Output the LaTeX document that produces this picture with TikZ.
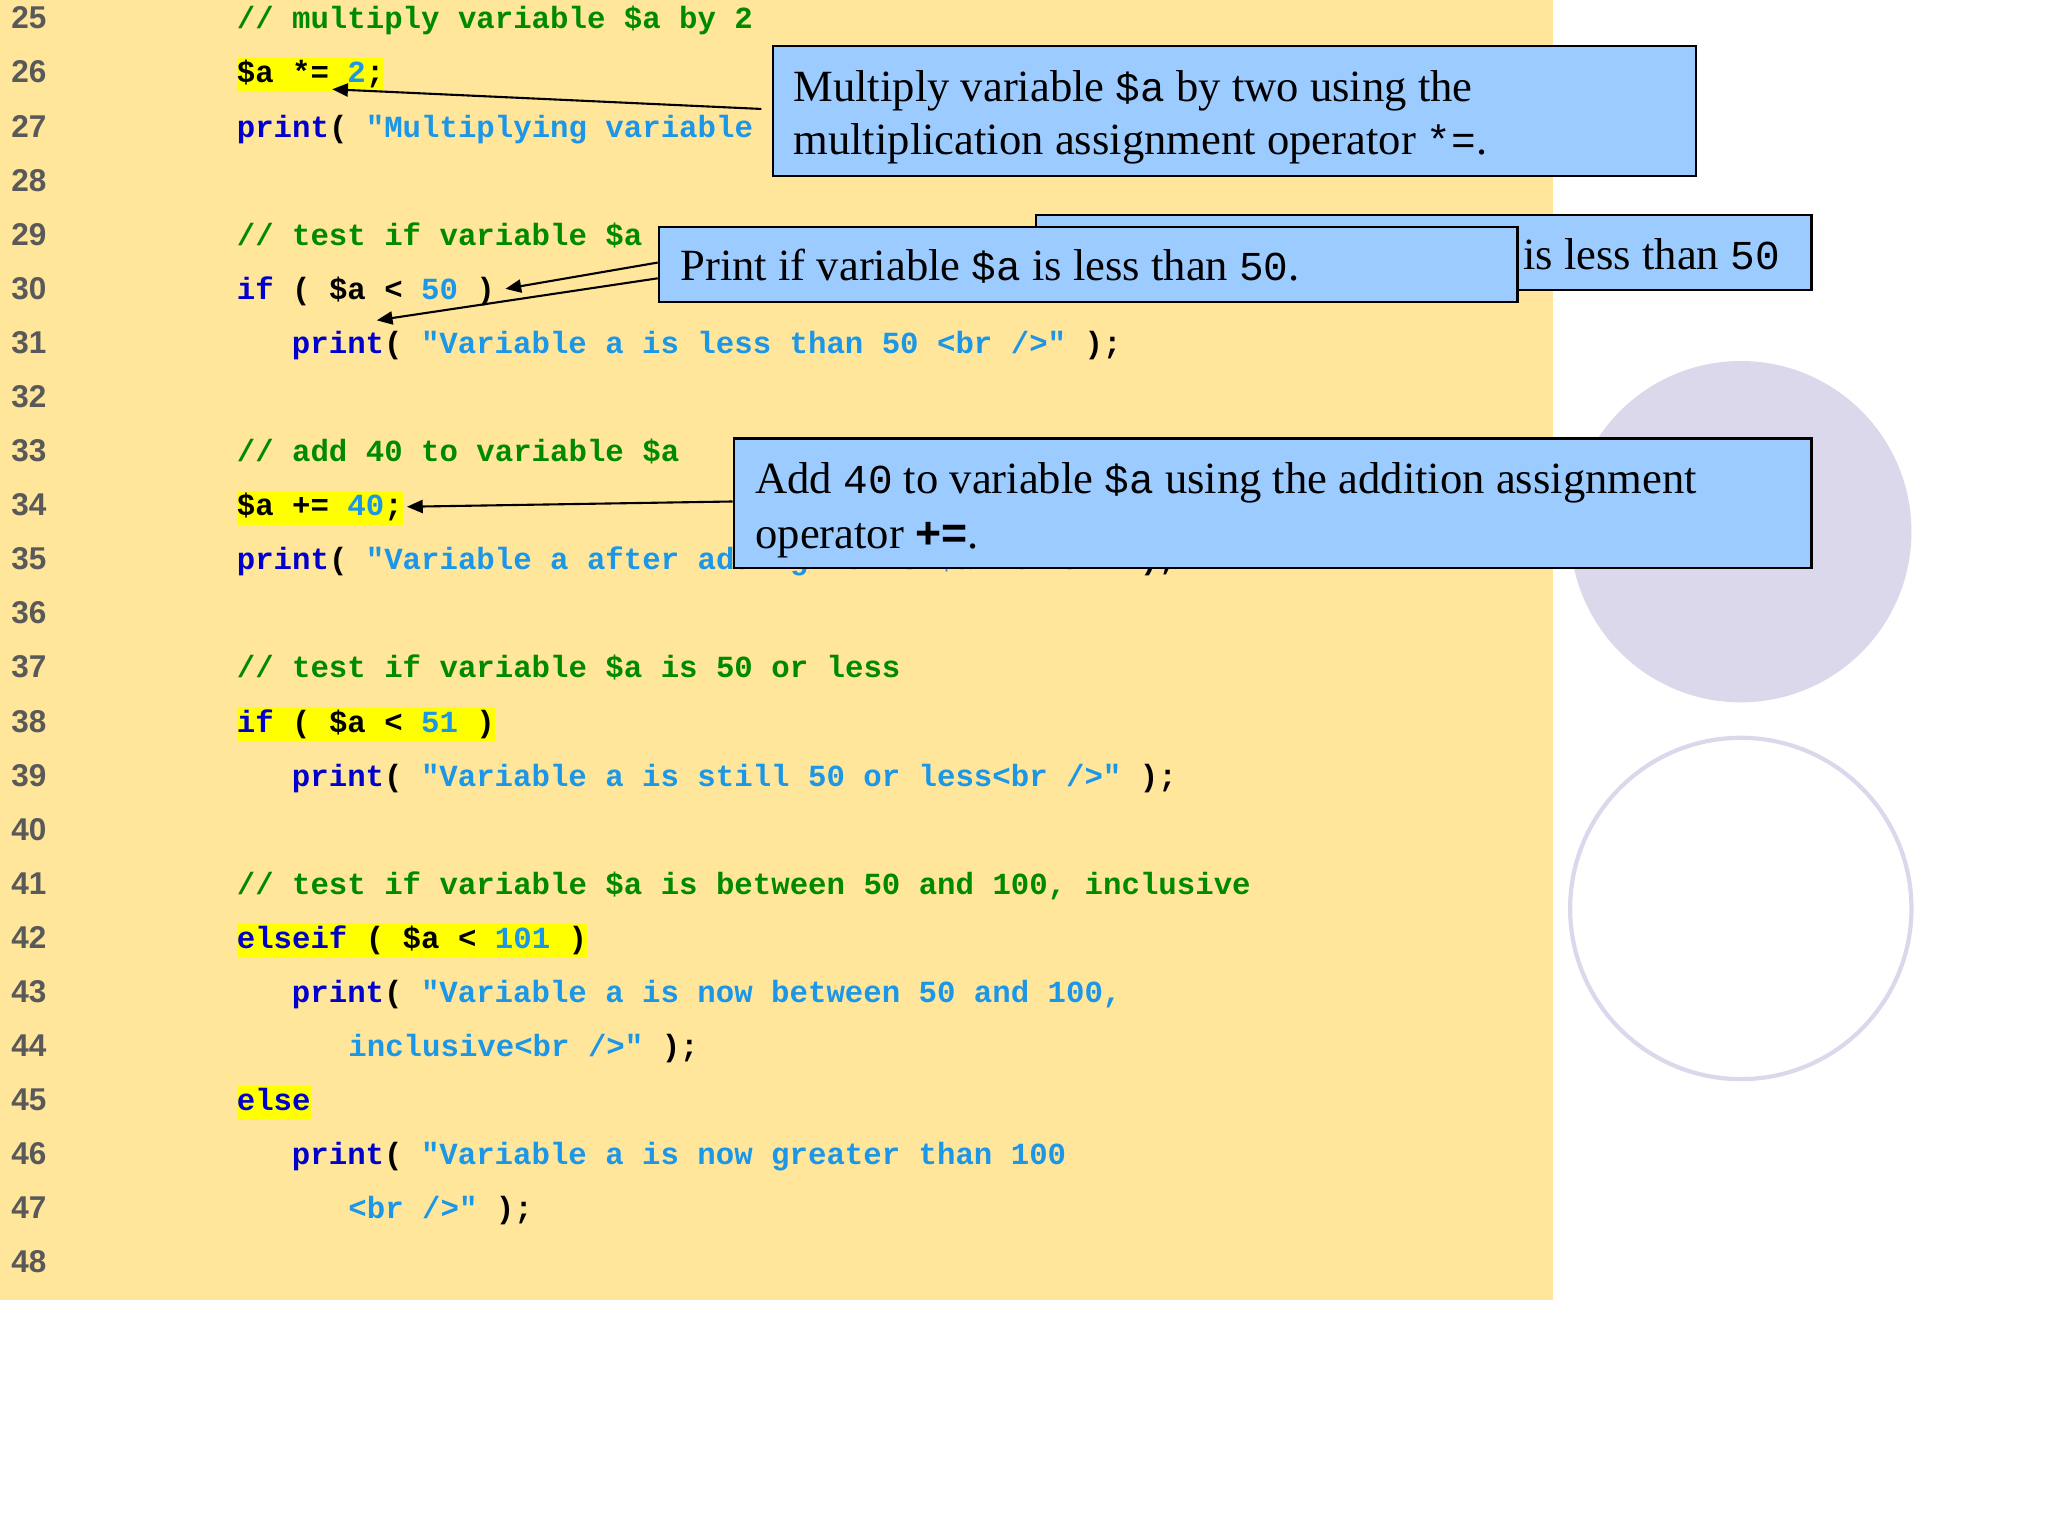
\documentclass[tikz,border=0pt]{standalone}
\usepackage{fontspec}
\setmainfont{Liberation Serif}
\setmonofont{Liberation Mono}
\newfontfamily\numfont{Liberation Sans}
\newfontfamily\thinmono[Scale=0.92]{Liberation Mono}
\usetikzlibrary{arrows.meta}
\definecolor{bgy}{HTML}{FFE69B}
\definecolor{hl}{HTML}{FFFF00}
\definecolor{cmt}{HTML}{008A00}
\definecolor{kw}{HTML}{0000CC}
\definecolor{str}{HTML}{1C96E6}
\definecolor{boxb}{HTML}{9CCBFF}
\definecolor{lav}{HTML}{DCD8EC}
\newcommand\Cc[1]{\textcolor{cmt}{#1}}
\newcommand\Ck[1]{\textcolor{kw}{#1}}
\newcommand\Cs[1]{\textcolor{str}{#1}}
\newcommand\Tm[1]{{\thinmono #1}}
\begin{document}
\begin{tikzpicture}[x=0.5pt,y=-0.5pt,
  code/.style={anchor=base west,inner sep=0pt,font=\fontsize{11.7}{12}\selectfont\ttfamily\bfseries},
  hlc/.style={code,fill=hl,inner xsep=0pt,text height=9.5pt,text depth=3.5pt},
  lnum/.style={anchor=base,inner sep=0pt,font=\fontsize{12}{12}\selectfont\numfont\bfseries,text=black!65},
  cbox/.style={draw=black,line width=0.9pt,fill=boxb,anchor=north west,inner sep=0pt},
  btxt/.style={anchor=base west,inner sep=0pt,font=\fontsize{17}{20}\selectfont},
  arr/.style={-{Triangle[length=6pt,width=5pt]},line width=0.8pt}]
\useasboundingbox (0,0) rectangle (1560,1170);
\fill[white] (0,0) rectangle (1560,1170);
\fill[bgy] (0,0) rectangle (1183,990);
\fill[lav] (1326,405) circle (130);
\draw[lav,line width=1.6pt] (1326,692) circle (130);
% line numbers
\foreach \n [count=\i from 0] in {25,...,48}{
  \node[lnum] (ln\n) at (22,{22+\i*41.2}) {\n};
}
\def\Y#1{{22+(#1-25)*41.2}}
\node[code] (c25) at (180,\Y{25}) {\Cc{// multiply variable \$a by 2}};
\node[hlc] (c26) at (180,\Y{26}) {\$a *= \Cs{2};};
\node[code] (c27) at (180,\Y{27}) {\Ck{print}( \Cs{"Multiplying variable a by 2 yields \$a <br />"} );};
\node[code] (c29) at (180,\Y{29}) {\Cc{// test if variable \$a}};
\node[code] (c30) at (180,\Y{30}) {\Ck{if} ( \$a < \Cs{50} )};
\node[code] (c31) at (222,\Y{31}) {\Ck{print}( \Cs{"Variable a is less than 50 <br />"} );};
\node[code] (c33) at (180,\Y{33}) {\Cc{// add 40 to variable \$a}};
\node[hlc] (c34) at (180,\Y{34}) {\$a += \Cs{40};};
\node[code] (c35) at (180,\Y{35}) {\Ck{print}( \Cs{"Variable a after adding 40 is \$a <br />"} );};
\node[code] (c37) at (180,\Y{37}) {\Cc{// test if variable \$a is 50 or less}};
\node[hlc] (c38) at (180,\Y{38}) {\Ck{if} ( \$a < \Cs{51} )};
\node[code] (c39) at (222,\Y{39}) {\Ck{print}( \Cs{"Variable a is still 50 or less<br />"} );};
\node[code] (c41) at (180,\Y{41}) {\Cc{// test if variable \$a is between 50 and 100, inclusive}};
\node[hlc] (c42) at (180,\Y{42}) {\Ck{elseif} ( \$a < \Cs{101} )};
\node[code] (c43) at (222,\Y{43}) {\Ck{print}( \Cs{"Variable a is now between 50 and 100,}};
\node[code] (c44) at (265,\Y{44}) {\Cs{inclusive<br />"} );};
\node[hlc] (c45) at (180,\Y{45}) {\Ck{else}};
\node[code] (c46) at (222,\Y{46}) {\Ck{print}( \Cs{"Variable a is now greater than 100}};
\node[code] (c47) at (265,\Y{47}) {\Cs{<br />"} );};
% box 1
\node[cbox,minimum width=351.5pt,minimum height=49.5pt] (b1) at (588,34) {};
\node[btxt] (t1a) at (604,77) {Multiply variable \Tm{\$a} by two using the};
\node[btxt] (t1b) at (604,118) {multiplication assignment operator \Tm{*=}.};
% box behind
\node[cbox,minimum width=295.5pt,minimum height=28.5pt] (b2) at (788,163) {};
\node[btxt,anchor=base east] (t2) at (1356,205) {Print if variable \Tm{\$a} is less than \Tm{50}};
% box front
\node[cbox,minimum width=327pt,minimum height=28.5pt] (b3) at (501,172) {};
\node[btxt] (t3) at (518,214) {Print if variable \Tm{\$a} is less than \Tm{50}.};
% box 3
\node[cbox,minimum width=410.5pt,minimum height=49.5pt] (b4) at (558,333) {};
\node[btxt] (t4a) at (575,376) {Add \Tm{40} to variable \Tm{\$a} using the addition assignment};
\node[btxt] (t4b) at (575,418) {operator \textbf{\fontspec{Liberation Sans}+=}.};
% arrows
\coordinate (a1) at (580,83);
\coordinate (a1e) at (253,68);
\draw[arr] (a1) -- (a1e);
\coordinate (a2) at (501,200);
\coordinate (a2e) at (385,220);
\draw[arr] (a2) -- (a2e);
\coordinate (a3) at (501,212);
\coordinate (a3e) at (287,244);
\draw[arr] (a3) -- (a3e);
\coordinate (a4) at (558,382);
\coordinate (a4e) at (310,386);
\draw[arr] (a4) -- (a4e);
\end{tikzpicture}
\end{document}
